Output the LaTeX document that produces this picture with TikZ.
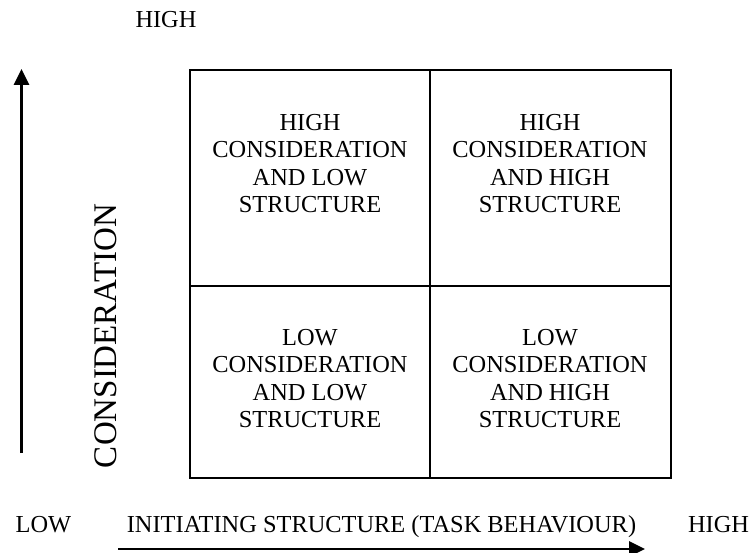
\documentclass[tikz,border=0pt]{standalone}
\usepackage{fontspec}
\setmainfont{Liberation Serif}
\usetikzlibrary{arrows.meta}
\begin{document}
\begin{tikzpicture}[x=1pt,y=-1pt,
  cell/.style={draw=black,line width=1.7pt,inner sep=0pt,anchor=north west},
  celltext/.style={align=center,inner sep=0pt,font=\fontsize{24.4}{27.5}\selectfont},
  lbl/.style={inner sep=0pt,anchor=base,font=\fontsize{24.4}{27.5}\selectfont},
  axis/.style={line width=2.7pt,-{Triangle[length=16pt,width=15pt]}}]
\useasboundingbox (0,0) rectangle (752,553);
% cells
\node[cell,minimum width=240pt,minimum height=216pt] (c1) at (189,69) {};
\node[cell,minimum width=241pt,minimum height=216pt] (c2) at (429,69) {};
\node[cell,minimum width=240pt,minimum height=192pt] (c3) at (189,285) {};
\node[cell,minimum width=241pt,minimum height=192pt] (c4) at (429,285) {};
% cell texts
\node[celltext] (t1) at (310,163.5) {HIGH\\CONSIDERATION\\AND LOW\\STRUCTURE};
\node[celltext] (t2) at (550,163.5) {HIGH\\CONSIDERATION\\AND HIGH\\STRUCTURE};
\node[celltext] (t3) at (310,378.5) {LOW\\CONSIDERATION\\AND LOW\\STRUCTURE};
\node[celltext] (t4) at (550,378.5) {LOW\\CONSIDERATION\\AND HIGH\\STRUCTURE};
% labels
\node[lbl] (hightop) at (166,28) {HIGH};
\node[lbl] (low) at (43.5,532) {LOW};
\node[lbl] (init) at (381.5,532) {INITIATING STRUCTURE (TASK BEHAVIOUR)};
\node[lbl] (highright) at (718.5,532) {HIGH};
\node[inner sep=0pt,anchor=base,rotate=90,font=\fontsize{33}{36}\selectfont] (cons) at (116,336) {CONSIDERATION};
% axes
\coordinate (vb) at (21.5,453);
\coordinate (vt) at (21.5,69);
\coordinate (hl) at (118,549);
\coordinate (hr) at (645,549);
\draw[axis] (vb) -- (vt);
\draw[axis] (hl) -- (hr);
\end{tikzpicture}
\end{document}
